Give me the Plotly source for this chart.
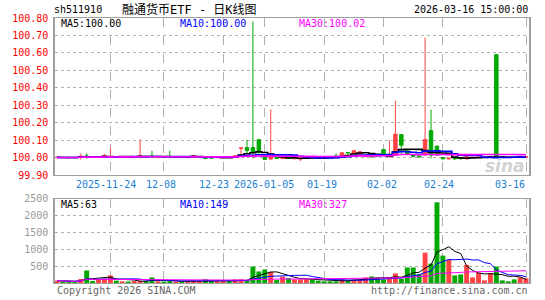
import plotly.graph_objects as go
import pandas as pd

dates = [
    "2025-11-11", "2025-11-12", "2025-11-13", "2025-11-14", "2025-11-17", "2025-11-18",
    "2025-11-19", "2025-11-20", "2025-11-21", "2025-11-24", "2025-11-25", "2025-11-26",
    "2025-11-27", "2025-12-01", "2025-12-02", "2025-12-03", "2025-12-04", "2025-12-05",
    "2025-12-08", "2025-12-09", "2025-12-10", "2025-12-11", "2025-12-15", "2025-12-16",
    "2025-12-17", "2025-12-18", "2025-12-19", "2025-12-22", "2025-12-23", "2025-12-24",
    "2025-12-25", "2025-12-26", "2025-12-29", "2025-12-30", "2025-12-31", "2026-01-05",
    "2026-01-06", "2026-01-07", "2026-01-08", "2026-01-09", "2026-01-12", "2026-01-13",
    "2026-01-14", "2026-01-15", "2026-01-16", "2026-01-19", "2026-01-20", "2026-01-21",
    "2026-01-22", "2026-01-23", "2026-01-26", "2026-01-27", "2026-01-28", "2026-01-29",
    "2026-01-30", "2026-02-02", "2026-02-03", "2026-02-04", "2026-02-05", "2026-02-06",
    "2026-02-09", "2026-02-10", "2026-02-11", "2026-02-12", "2026-02-13", "2026-02-24",
    "2026-02-25", "2026-02-26", "2026-02-27", "2026-03-02", "2026-03-03", "2026-03-04",
    "2026-03-05", "2026-03-06", "2026-03-09", "2026-03-10", "2026-03-11", "2026-03-12",
    "2026-03-13", "2026-03-16",
]

opens = [
    100.001, 100.002, 100.001, 100.001, 100.005, 100.010, 100.005, 100.002, 100.010, 100.003,
    100.006, 100.003, 100.005, 100.004, 100.007, 100.006, 100.008, 100.004, 100.005, 100.008,
    100.004, 100.005, 100.003, 100.002, 100.003, 100.004, 100.002, 100.000, 100.001, 100.003,
    100.004, 100.054, 100.058, 100.058, 100.103, 100.015, 99.992, 100.005, 99.995, 100.000,
    99.994, 99.992, 99.997, 100.005, 100.004, 100.003, 100.006, 100.010, 100.006, 100.030,
    100.024, 100.019, 100.006, 100.015, 100.015, 100.047, 100.005, 100.013, 100.132, 100.047,
    100.015, 100.010, 100.015, 100.155, 100.066, 100.000, 99.993, 99.999, 100.000, 99.993,
    100.000, 100.000, 100.001, 100.003, 100.590, 100.004, 100.003, 100.003, 100.002, 100.002,
]
highs = [
    100.003, 100.003, 100.002, 100.002, 100.024, 100.025, 100.006, 100.006, 100.020, 100.058,
    100.007, 100.006, 100.006, 100.006, 100.104, 100.007, 100.040, 100.006, 100.006, 100.040,
    100.006, 100.006, 100.005, 100.014, 100.005, 100.006, 100.003, 100.003, 100.003, 100.004,
    100.012, 100.057, 100.103, 100.780, 100.104, 100.016, 100.278, 100.006, 100.000, 100.001,
    100.000, 100.000, 100.001, 100.011, 100.011, 100.006, 100.010, 100.024, 100.032, 100.031,
    100.041, 100.036, 100.012, 100.023, 100.017, 100.048, 100.100, 100.326, 100.133, 100.048,
    100.018, 100.012, 100.688, 100.275, 100.068, 100.001, 99.999, 100.001, 100.003, 100.007,
    100.003, 100.004, 100.003, 100.007, 100.591, 100.005, 100.004, 100.004, 100.007, 100.005,
]
lows = [
    99.999, 100.000, 99.999, 99.998, 99.990, 99.995, 100.001, 100.001, 100.003, 100.001,
    100.003, 100.002, 100.003, 100.003, 100.006, 100.004, 100.006, 100.003, 100.003, 100.006,
    100.003, 100.003, 100.002, 100.001, 100.002, 99.992, 99.995, 99.999, 100.000, 100.001,
    100.003, 100.015, 100.024, 99.995, 100.020, 99.987, 99.990, 99.993, 99.993, 99.995,
    99.990, 99.981, 99.995, 99.996, 99.998, 99.992, 100.001, 100.003, 100.004, 100.010,
    100.022, 100.017, 100.004, 100.000, 100.006, 100.010, 100.002, 100.012, 100.015, 100.015,
    100.005, 100.003, 100.013, 99.996, 100.013, 99.992, 99.990, 99.988, 99.988, 99.992,
    99.999, 99.999, 100.000, 100.002, 99.998, 100.001, 100.000, 100.000, 100.001, 100.001,
]
closes = [
    100.002, 100.001, 100.000, 100.000, 100.008, 100.008, 100.003, 100.004, 100.013, 100.005,
    100.004, 100.005, 100.004, 100.005, 100.013, 100.005, 100.007, 100.005, 100.004, 100.007,
    100.005, 100.004, 100.004, 100.013, 100.004, 99.995, 99.998, 100.002, 100.002, 100.002,
    100.011, 100.056, 100.041, 100.030, 100.030, 99.990, 100.011, 99.995, 99.998, 99.997,
    99.998, 99.995, 100.000, 100.000, 100.000, 99.999, 100.003, 100.005, 100.028, 100.028,
    100.040, 100.034, 100.010, 100.005, 100.008, 100.011, 100.008, 100.134, 100.071, 100.019,
    100.008, 100.005, 100.104, 100.015, 100.015, 99.994, 99.997, 99.994, 99.995, 100.006,
    100.002, 100.003, 100.002, 100.006, 100.003, 100.002, 100.001, 100.001, 100.006, 100.004,
]
volumes = [
    70, 45, 40, 50, 118, 372, 60, 100, 130, 226,
    70, 50, 45, 60, 60, 50, 167, 50, 45, 60,
    50, 45, 50, 60, 50, 110, 60, 50, 50, 55,
    110, 110, 70, 490, 343, 402, 330, 88, 188, 147,
    108, 108, 108, 108, 70, 50, 50, 50, 108, 70,
    108, 108, 167, 196, 167, 108, 167, 285, 127, 461,
    461, 265, 902, 578, 2400, 814, 689, 225, 255, 540,
    167, 304, 78, 294, 490, 78, 50, 108, 167, 137,
]

tick_dates = ["2025-11-24", "2025-12-08", "2025-12-23", "2026-01-05",
              "2026-01-19", "2026-02-02", "2026-02-24", "2026-03-16"]
tick_text = ["2025-11-24", "12-08", "12-23", "2026-01-05",
             "01-19", "02-02", "02-24", "03-16"]
price_ticks = [99.90, 100.00, 100.10, 100.20, 100.30, 100.40, 100.50, 100.60, 100.70, 100.80]
vol_ticks = [500, 1000, 1500, 2000, 2500]

RED = "#ff4444"
GREEN = "#00a800"
MAGENTA = "#ff00ff"
BLUE = "#0000ff"
MONO = "DejaVu Sans Mono"

cs = pd.Series(closes)
vs = pd.Series(volumes)
ma5 = cs.rolling(5, min_periods=1).mean()
ma10 = cs.rolling(10, min_periods=1).mean()
ma30 = cs.rolling(30, min_periods=1).mean()
vma5 = vs.rolling(5, min_periods=1).mean()
vma10 = vs.rolling(10, min_periods=1).mean()
vma30 = vs.rolling(30, min_periods=1).mean()
is_up = [c >= o for o, c in zip(opens, closes)]
vol_colors = [RED if u else GREEN for u in is_up]
body_top = [max(o, c) for o, c in zip(opens, closes)]
body_bot = [min(o, c) for o, c in zip(opens, closes)]

fig = go.Figure()

# wicks (high-low) as 1px line segments, one trace per colour
for want_up, col in [(True, RED), (False, GREEN)]:
    wx, wy = [], []
    for d, h, l, u in zip(dates, highs, lows, is_up):
        if u == want_up:
            wx += [d, d, None]
            wy += [l, h, None]
    fig.add_trace(go.Scatter(x=wx, y=wy, mode="lines", xaxis="x", yaxis="y",
                             line=dict(color=col, width=1), hoverinfo="skip"))

# bodies (open-close)
fig.add_trace(go.Candlestick(
    x=dates, open=opens, high=body_top, low=body_bot, close=closes,
    increasing=dict(line=dict(color=RED, width=1), fillcolor=RED),
    decreasing=dict(line=dict(color=GREEN, width=1), fillcolor=GREEN),
    whiskerwidth=0, xaxis="x", yaxis="y", hoverinfo="skip",
))
for ser, col in [(ma5, "black"), (ma10, BLUE), (ma30, MAGENTA)]:
    fig.add_trace(go.Scatter(x=dates, y=ser, mode="lines", xaxis="x", yaxis="y",
                             line=dict(color=col, width=1.6, shape="hvh"), hoverinfo="skip"))

fig.add_trace(go.Bar(x=dates, y=volumes, marker=dict(color=vol_colors, line=dict(width=0)),
                     xaxis="x2", yaxis="y2", hoverinfo="skip"))
for ser, col in [(vma5, "black"), (vma10, BLUE), (vma30, MAGENTA)]:
    fig.add_trace(go.Scatter(x=dates, y=ser, mode="lines", xaxis="x2", yaxis="y2",
                             line=dict(color=col, width=1), hoverinfo="skip"))

# 6 px per trading day; half-pixel nudge so 1px wicks fall on whole pixels
pad = 2.5 / 6.0
nudge = 0.5 / 6.0
xcommon = dict(type="category", categoryorder="array", categoryarray=dates,
               range=[-pad + nudge, len(dates) - 1 + pad + nudge], showgrid=True,
               gridcolor="#b0b0b0", griddash="dash", gridwidth=1, tickvals=tick_dates,
               showticklabels=False, ticks="", showline=True, mirror=True,
               linecolor="#a0a0a0", linewidth=1, zeroline=False, fixedrange=True)

fig.update_layout(
    width=545, height=300,
    margin=dict(l=50, r=16, t=18, b=14),
    paper_bgcolor="white", plot_bgcolor="white",
    showlegend=False, bargap=0.17, boxgap=0.17,
    xaxis=dict(xcommon, anchor="y", domain=[0, 1], rangeslider=dict(visible=False)),
    xaxis2=dict(xcommon, anchor="y2", domain=[0, 1]),
    yaxis=dict(domain=[0.4067, 1], range=[99.8995, 100.8005], tickvals=price_ticks,
               ticktext=["%.2f" % v for v in price_ticks],
               tickfont=dict(family=MONO, size=10, color="#ff0000"),
               showgrid=True, gridcolor="#b0b0b0", griddash="dot", zeroline=False,
               showline=True, mirror=True, linecolor="#a0a0a0", linewidth=1.5,
               ticks="", ticklabelstandoff=3, fixedrange=True),
    yaxis2=dict(domain=[0, 0.3172], range=[0, 2500.5], tickvals=vol_ticks,
                ticktext=[str(v) for v in vol_ticks],
                tickfont=dict(family=MONO, size=10, color="#999999"),
                showgrid=True, gridcolor="#b0b0b0", griddash="dot", zeroline=False,
                showline=True, mirror=True, linecolor="#a0a0a0", linewidth=1.5,
                ticks="", ticklabelstandoff=3, fixedrange=True),
)

ann = []
def txt(x, y, s, color, size=10, xanchor="left", xref="paper", family=MONO, **kw):
    ann.append(dict(x=x, y=y, xref=xref, yref="paper", text=s, showarrow=False,
                    xanchor=xanchor, yanchor="middle",
                    font=dict(family=family, size=size, color=color), **kw))

# header
txt(-0.006, 1.031, "sh511910", "#000000", size=10)
txt(0.138, 1.031, "融通货币ETF - 日K线图", "#000000", size=12,
    family="DejaVu Sans Mono, Noto Sans CJK SC")
txt(1.003, 1.031, "2026-03-16 15:00:00", "#000000", size=10, xanchor="right")
# price MA labels
txt(0.008, 0.9776, "MA5:100.00", "#000000")
txt(0.260, 0.9776, "MA10:100.00", BLUE)
txt(0.511, 0.9776, "MA30:100.02", MAGENTA)
# volume MA labels
txt(0.008, 0.2948, "MA5:63", "#000000")
txt(0.260, 0.2948, "MA10:149", BLUE)
txt(0.511, 0.2948, "MA30:327", MAGENTA)
# date labels (last one kept inside the plot; 12-23 nudged left to clear its neighbour)
label_shift = {"2025-11-24": -4, "2025-12-08": -3, "2025-12-23": -9, "2026-01-05": -1,
               "2026-01-19": -2, "2026-02-02": -2, "2026-02-24": -4, "2026-03-16": 1}
for d, t in zip(tick_dates, tick_text):
    last = d == tick_dates[-1]
    txt(d, 0.3731, t, "#1a7fd4", xref="x", xanchor="right" if last else "center",
        xshift=label_shift[d])
# footer
txt(0.0, -0.027, "Copyright 2026 SINA.COM", "#666666")
txt(1.003, -0.027, "http://finance.sina.com.cn", "#666666", xanchor="right")
# watermark
ann.append(dict(x=0.995, y=0.44, xref="paper", yref="paper", text="sina", showarrow=False,
                xanchor="right", yanchor="middle",
                font=dict(family="DejaVu Sans", size=17, color="rgba(190,190,190,0.7)",
                          style="italic", weight="bold")))
fig.update_layout(annotations=ann)

fig.write_html("out.html")
